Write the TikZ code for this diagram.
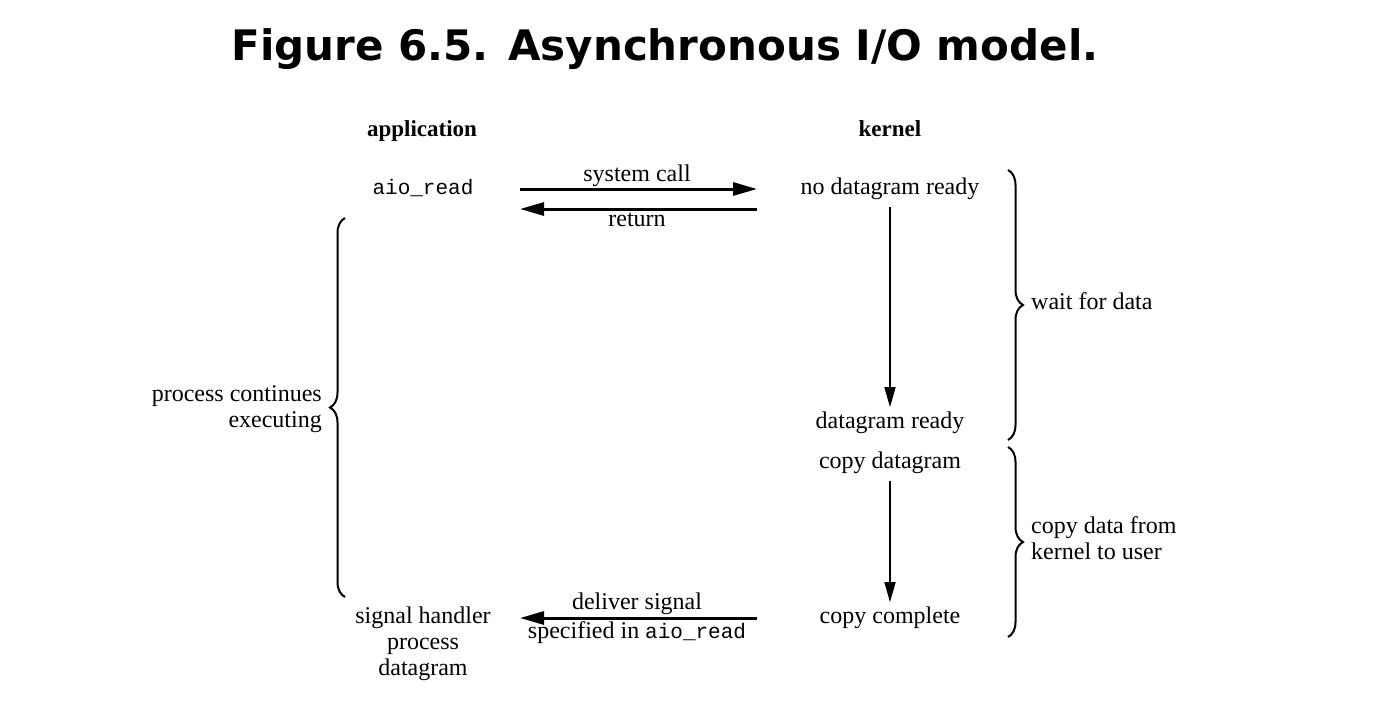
\documentclass[tikz,border=0pt]{standalone}
\usepackage{fontspec}
\setmainfont{Liberation Serif}
\setmonofont{Liberation Mono}
\newfontfamily\titlefont{DejaVu Sans}
\usetikzlibrary{arrows.meta,decorations.pathreplacing}
\begin{document}
\begin{tikzpicture}[x=1pt,y=-1pt,
  txt/.style={inner sep=0pt,anchor=base,font=\fontsize{24}{26}\selectfont},
  hdr/.style={inner sep=0pt,anchor=base,font=\fontsize{23}{26}\selectfont\bfseries},
  harrow/.style={line width=3pt,-{Triangle[length=24pt,width=13pt]}},
  varrow/.style={line width=1.6pt,-{Triangle[length=20pt,width=11pt]},shorten <=8pt,shorten >=4pt},
  brc/.style={line width=2pt,decorate,decoration={brace,amplitude=15pt,aspect=0.5}}]
\useasboundingbox[fill=white] (0,0) rectangle (1400,702);
\node[anchor=base,inner sep=0pt,font=\titlefont\bfseries\fontsize{42}{46}\selectfont] (title) at (665,60) {Figure 6.5. Asynchronous I/O model.};
\node[hdr] (app) at (422,136) {application};
\node[hdr] (ker) at (890,136) {kernel};
\node[txt,font=\ttfamily\fontsize{21}{25}\selectfont] (aio) at (423,194) {aio\_read};
\node[txt] (ndr) at (890,194) {no datagram ready};
\node[txt] (dr) at (890,428) {datagram ready};
\node[txt] (cd) at (890,468) {copy datagram};
\node[txt] (cc) at (890,623) {copy complete};
\node[txt,align=center] (sh) at (423,675) {signal handler\\process\\datagram};
% horizontal arrows
\coordinate (scL) at (520,189);
\coordinate (scR) at (757,189);
\coordinate (rtL) at (520,209);
\coordinate (rtR) at (757,209);
\coordinate (dsL) at (520,618);
\coordinate (dsR) at (757,618);
\draw[harrow] (scL) -- (scR);
\node[txt] (sclbl) at (637,181) {system call};
\draw[harrow] (rtR) -- (rtL);
\node[txt] (rtlbl) at (637,226) {return};
\draw[harrow] (dsR) -- (dsL);
\node[txt] (dslbl) at (637,609) {deliver signal};
\node[txt] (dslbl2) at (637,638) {specified in \texttt{\fontsize{21}{25}\selectfont aio\_read}};
% vertical arrows
\draw[varrow] (ndr.south) -- (dr.north);
\draw[varrow] (cd.south) -- (cc.north);
% braces
\coordinate (lbT) at (345,218);
\coordinate (lbB) at (345,597);
\draw[brc] (lbB) -- (lbT);
\node[txt,anchor=base east,align=right] (pce) at (322,427) {process continues\\executing};
\coordinate (rb1T) at (1008,170);
\coordinate (rb1B) at (1008,440);
\draw[brc] (rb1T) -- (rb1B);
\node[txt,anchor=base west] (wfd) at (1031,309) {wait for data};
\coordinate (rb2T) at (1008,447);
\coordinate (rb2B) at (1008,637);
\draw[brc] (rb2T) -- (rb2B);
\node[txt,anchor=base west,align=left] (cdk) at (1031,559) {copy data from\\kernel to user};
\end{tikzpicture}
\end{document}
